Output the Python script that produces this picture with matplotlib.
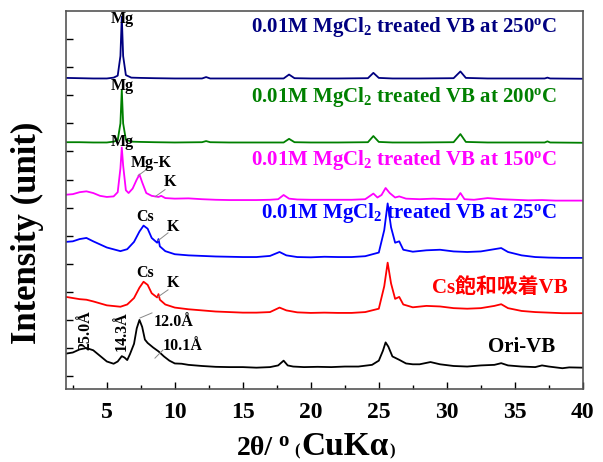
import matplotlib
matplotlib.use('Agg')
import matplotlib.pyplot as plt

plt.rcParams['font.family'] = ['Liberation Serif', 'Noto Sans CJK JP', 'DejaVu Sans']
plt.rcParams['mathtext.fontset'] = 'custom'
plt.rcParams['mathtext.rm'] = 'Liberation Serif:bold'
plt.rcParams['mathtext.bf'] = 'Liberation Serif:bold'
plt.rcParams['mathtext.it'] = 'Liberation Serif:bold:italic'

# 2theta / intensity (already stacked)
ori_x = [2.0, 2.5, 3.0, 3.5, 4.0, 4.5, 5.0, 5.5, 5.8, 6.1, 6.3, 6.5, 6.7, 7.0, 7.2, 7.4, 7.6, 7.8, 8.0,
         8.4, 8.8, 9.2, 9.6, 10.0, 10.5, 11.0, 12.0, 13.0, 14.0, 15.0, 16.0, 17.0, 17.6, 18.0, 18.3,
         18.7, 19.5, 20.5, 21.5, 22.5, 23.5, 24.5, 25.0, 25.3, 25.5, 25.7, 26.0, 26.5, 27.0, 27.5,
         28.0, 28.8, 29.5, 30.5, 31.5, 32.5, 33.5, 34.0, 34.5, 35.5, 36.5, 37.0, 37.5, 38.5, 39.0, 40.0]
ori_y = [0.80, 0.84, 0.95, 1.00, 0.92, 0.72, 0.52, 0.44, 0.52, 0.71, 0.66, 0.57, 0.78, 1.15, 1.70, 2.00,
         1.75, 1.30, 1.18, 1.02, 0.88, 0.70, 0.55, 0.45, 0.44, 0.40, 0.36, 0.33, 0.32, 0.32, 0.30, 0.32,
         0.38, 0.55, 0.38, 0.34, 0.32, 0.33, 0.32, 0.34, 0.34, 0.40, 0.55, 0.90, 1.20, 1.05, 0.70, 0.58,
         0.45, 0.42, 0.42, 0.50, 0.42, 0.36, 0.34, 0.38, 0.40, 0.46, 0.38, 0.34, 0.32, 0.38, 0.34, 0.28,
         0.31, 0.30]

cs_x = [2.0, 2.5, 3.0, 3.5, 4.0, 5.0, 6.0, 6.5, 7.0, 7.4, 7.7, 8.0, 8.3, 8.7, 8.8, 8.9, 9.3, 10.0, 11.0,
        12.0, 13.0, 14.0, 15.0, 16.0, 17.0, 17.7, 18.2, 19.0, 20.0, 21.0, 22.0, 23.0, 24.0, 25.0, 25.4,
        25.65, 25.9, 26.2, 26.5, 26.8, 27.5, 28.5, 29.5, 30.5, 31.5, 32.5, 33.5, 34.0, 34.5, 35.5, 36.5,
        37.5, 38.5, 40.0]
cs_y = [2.82, 2.78, 2.74, 2.72, 2.66, 2.52, 2.47, 2.55, 2.78, 3.15, 3.36, 3.25, 2.95, 2.80, 2.92, 2.72,
        2.55, 2.44, 2.38, 2.34, 2.30, 2.28, 2.26, 2.26, 2.28, 2.44, 2.34, 2.27, 2.25, 2.26, 2.25, 2.25,
        2.28, 2.40, 3.20, 4.04, 3.30, 2.75, 2.82, 2.55, 2.45, 2.50, 2.48, 2.42, 2.40, 2.42, 2.50, 2.56,
        2.42, 2.32, 2.28, 2.26, 2.24, 2.24]

t25_x = cs_x
t25_y = [4.78, 4.80, 4.88, 4.92, 4.80, 4.58, 4.45, 4.52, 4.78, 5.15, 5.36, 5.25, 4.92, 4.75, 4.88, 4.62,
         4.45, 4.34, 4.30, 4.28, 4.26, 4.25, 4.24, 4.24, 4.28, 4.42, 4.30, 4.24, 4.23, 4.25, 4.24, 4.24,
         4.27, 4.40, 5.20, 6.15, 5.30, 4.75, 4.80, 4.50, 4.43, 4.48, 4.50, 4.44, 4.42, 4.44, 4.52, 4.56,
         4.42, 4.30, 4.24, 4.22, 4.21, 4.21]

t150_x = [2.0, 2.5, 3.0, 3.5, 4.0, 4.5, 5.0, 5.5, 5.8, 6.0, 6.1, 6.2, 6.4, 6.6, 6.9, 7.2, 7.4, 7.6, 7.9,
          8.3, 8.8, 9.0, 9.3, 10.0, 11.0, 12.0, 13.0, 14.0, 15.0, 16.0, 17.0, 17.6, 18.0, 18.4, 19.0,
          20.0, 21.0, 22.0, 23.0, 24.0, 24.6, 24.9, 25.2, 25.5, 25.8, 26.2, 26.5, 27.0, 28.0, 29.0,
          30.0, 30.7, 31.0, 31.3, 32.0, 33.0, 34.0, 35.0, 36.0, 37.0, 38.0, 39.0, 40.0]
t150_y = [6.46, 6.48, 6.55, 6.58, 6.52, 6.42, 6.38, 6.40, 6.55, 7.40, 8.14, 7.50, 6.62, 6.52, 6.68, 7.00,
          7.18, 6.90, 6.52, 6.42, 6.38, 6.42, 6.34, 6.32, 6.33, 6.30, 6.28, 6.27, 6.27, 6.27, 6.28, 6.30,
          6.45, 6.32, 6.29, 6.28, 6.28, 6.28, 6.28, 6.30, 6.50, 6.36, 6.45, 6.70, 6.52, 6.36, 6.40, 6.32,
          6.30, 6.32, 6.30, 6.30, 6.52, 6.30, 6.28, 6.34, 6.30, 6.28, 6.26, 6.27, 6.25, 6.25, 6.25]

t200_x = [2.0, 3.0, 4.0, 5.0, 5.5, 5.8, 6.0, 6.1, 6.2, 6.4, 6.8, 7.5, 8.5, 10.0, 12.0, 12.3, 12.6, 14.0,
          16.0, 18.0, 18.4, 18.8, 20.0, 22.0, 24.2, 24.6, 25.0, 26.0, 28.0, 30.5, 31.0, 31.4, 33.0, 35.0,
          37.2, 37.4, 37.6, 40.0]
t200_y = [8.33, 8.33, 8.32, 8.32, 8.35, 8.40, 9.00, 10.20, 9.00, 8.42, 8.35, 8.34, 8.33, 8.32, 8.33, 8.37,
          8.33, 8.32, 8.32, 8.32, 8.45, 8.33, 8.32, 8.32, 8.33, 8.55, 8.34, 8.32, 8.32, 8.33, 8.62, 8.34,
          8.32, 8.32, 8.32, 8.36, 8.32, 8.31]

t250_x = t200_x
t250_y = [10.62, 10.61, 10.60, 10.60, 10.63, 10.70, 11.40, 12.80, 11.40, 10.72, 10.63, 10.62, 10.61, 10.60,
          10.60, 10.65, 10.60, 10.60, 10.60, 10.60, 10.74, 10.61, 10.60, 10.60, 10.61, 10.80, 10.62, 10.60,
          10.60, 10.61, 10.85, 10.62, 10.60, 10.60, 10.60, 10.63, 10.60, 10.59]

series = [
    (ori_x, ori_y, '#000000', 'Ori-VB', 1.04),
    (cs_x, cs_y, '#ff0000', 'Cs飽和吸着VB', 3.14),
    (t25_x, t25_y, '#0000ff', r'0.01M MgCl$_\mathbf{2}$ treated VB at 25$^\mathbf{o}$C', 5.82),
    (t150_x, t150_y, '#ff00ff', r'0.01M MgCl$_\mathbf{2}$ treated VB at 150$^\mathbf{o}$C', 7.71),
    (t200_x, t200_y, '#008000', r'0.01M MgCl$_\mathbf{2}$ treated VB at 200$^\mathbf{o}$C', 9.93),
    (t250_x, t250_y, '#000080', r'0.01M MgCl$_\mathbf{2}$ treated VB at 250$^\mathbf{o}$C', 12.43),
]
label_x = [38.0, 38.9, 38.1, 38.1, 38.1, 38.1]

fig = plt.figure(figsize=(6.03, 4.62), dpi=100)
ax = fig.add_axes([0.1095, 0.158, 0.857, 0.818])

for (x, y, c, name, ly), lx in zip(series, label_x):
    ax.plot(x, y, color=c, lw=1.3)
    ax.text(lx, ly, name, color=c, fontsize=15, fontweight='bold', ha='right', va='center')

# peak labels
peak_labels = [('Mg', 6.1, 12.72), ('Mg', 6.1, 10.32), ('Mg', 6.1, 8.32), ('Mg-K', 8.3, 7.6),
               ('K', 9.65, 6.93), ('Cs', 7.8, 5.68), ('K', 9.87, 5.32), ('Cs', 7.8, 3.68),
               ('K', 9.87, 3.32), ('12.0Å', 9.9, 1.93), ('10.1Å', 10.6, 1.07)]
for t, x, y in peak_labels:
    ax.text(x, y, t, fontsize=11.5, fontweight='bold', ha='center', va='center')
for t, x, y in [('25.0Å', 3.4, 1.64), ('14.3Å', 6.1, 1.6)]:
    ax.text(x, y, t, fontsize=11.5, fontweight='bold', ha='center', va='center', rotation=90)

leaders = [((7.3, 8.2), (7.14, 7.46)), ((8.55, 9.28), (6.39, 6.64)), ((8.76, 9.5), (4.82, 5.1)),
           ((8.76, 9.5), (2.82, 3.07)), ((7.44, 8.32), (2.07, 2.25)), ((8.54, 9.13), (0.64, 0.93))]
for lxs, lys in leaders:
    ax.plot(lxs, lys, color='#888888', lw=0.7)

ax.set_xlim(2, 40)
ax.set_ylim(-0.46, 13.0)
ax.set_xticks([5, 10, 15, 20, 25, 30, 35, 40])
ax.set_xticks([2.5, 7.5, 12.5, 17.5, 22.5, 27.5, 32.5, 37.5], minor=True)
ax.set_yticks(range(0, 13))
ax.set_yticklabels([])
ax.tick_params(direction='in', length=5, width=1, labelsize=17, pad=9)
ax.tick_params(which='minor', direction='in', length=3, width=1)
for lab in ax.get_xticklabels():
    lab.set_fontweight('bold')
for s in ax.spines.values():
    s.set_color('#555555')
    s.set_linewidth(1.2)

# axis titles
fig.text(27 / 603, 1 - 233 / 462, 'Intensity (unit)', fontsize=25, fontweight='bold',
         rotation=90, ha='center', va='center')

# x title built from pieces: "2θ/ o (CuKα)" with small superscript and parentheses
base = 1 - 455 / 462
renderer = fig.canvas.get_renderer()
parts = [('2θ/', 20, 0.0, 0), ('o', 15, 9 / 462, 5), ('(', 12, 0.0, 6), ('CuKα', 24, 0.0, 1), (')', 12, 0.0, 1)]
xpos = 237 / 603
for txt, size, dy, gap in parts:
    xpos += gap / 603
    t = fig.text(xpos, base + dy, txt, fontsize=size, fontweight='bold', ha='left', va='baseline')
    xpos += t.get_window_extent(renderer).width / 603

plt.savefig('out.png', dpi=100)
